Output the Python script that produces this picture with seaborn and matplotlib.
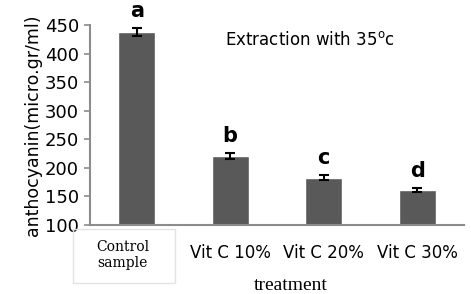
import numpy as np
import pandas as pd
import matplotlib
matplotlib.use('Agg')
import matplotlib.pyplot as plt
import matplotlib.transforms as mtransforms
import matplotlib.patches as mpatches
import seaborn as sns

treatments = ['Control\nsample', 'Vit C 10%', 'Vit C 20%', 'Vit C 30%']
anthocyanin = [438, 221, 183, 161]
sd = [7, 5, 4, 3]
letters = ['a', 'b', 'c', 'd']
yticks = [100, 150, 200, 250, 300, 350, 400, 450]

sns.set_style('white')
plt.rcParams['font.family'] = ['DejaVu Sans']
plt.rcParams['text.color'] = 'black'
plt.rcParams['axes.labelcolor'] = 'black'
plt.rcParams['xtick.color'] = 'black'
plt.rcParams['ytick.color'] = 'black'

fig = plt.figure(figsize=(4.71, 2.94), dpi=100)
# axes placed in pixel terms of the 471x294 canvas
ax = fig.add_axes([90/471, 1-225/294, 374/471, 200/294])

df = pd.DataFrame({'treatment': treatments, 'anthocyanin': anthocyanin})
sns.barplot(data=df, x='treatment', y='anthocyanin', color='#595959',
            saturation=1, width=0.4, errorbar=None, ax=ax)
ax.errorbar(range(len(treatments)), anthocyanin, yerr=sd, fmt='none',
            ecolor='black', elinewidth=1.5, capsize=3.5, capthick=1.5)

# significance letters
for i, (v, s, l) in enumerate(zip(anthocyanin, sd, letters)):
    ax.text(i, v + s + 30, l, ha='center', va='center', fontsize=15,
            fontweight='bold', clip_on=False)

ax.text(1.85, 424, 'Extraction with 35$^{\\rm o}$c', ha='center', va='center',
        fontsize=12)

ax.set_ylim(100, 450)
ax.set_xlim(-0.5, 3.5)
ax.set_yticks(yticks)
ax.tick_params(axis='y', direction='out', length=4, width=1.2, color='#8c8c8c',
               labelsize=13, pad=4, left=True)
ax.tick_params(axis='x', length=0, labelsize=12, pad=14)
for sp in ['top', 'right']:
    ax.spines[sp].set_visible(False)
for sp in ['left', 'bottom']:
    ax.spines[sp].set_color('#8c8c8c')
    ax.spines[sp].set_linewidth(1.5)

ax.set_xlabel('')
ax.set_ylabel('anthocyanin(micro.gr/ml)', fontsize=12.5, labelpad=2)

# first category label is serif and shifted left, inside a faint box
lab0 = ax.get_xticklabels()[0]
lab0.set_family('DejaVu Serif')
lab0.set_fontsize(10)
lab0.set_linespacing(1.1)
lab0.set_transform(lab0.get_transform() +
                   mtransforms.ScaledTranslation(-14/100, 4/100, fig.dpi_scale_trans))
box = mpatches.Rectangle((73/471, 1-283/294), 102/471, 54/294,
                         transform=fig.transFigure, fill=False,
                         edgecolor='#e3e3e3', linewidth=1)
fig.patches.append(box)

fig.text(291/471, 1-285/294, 'treatment', family='Liberation Serif',
         fontsize=14, ha='center', va='center')

fig.savefig('out.png', dpi=100)
